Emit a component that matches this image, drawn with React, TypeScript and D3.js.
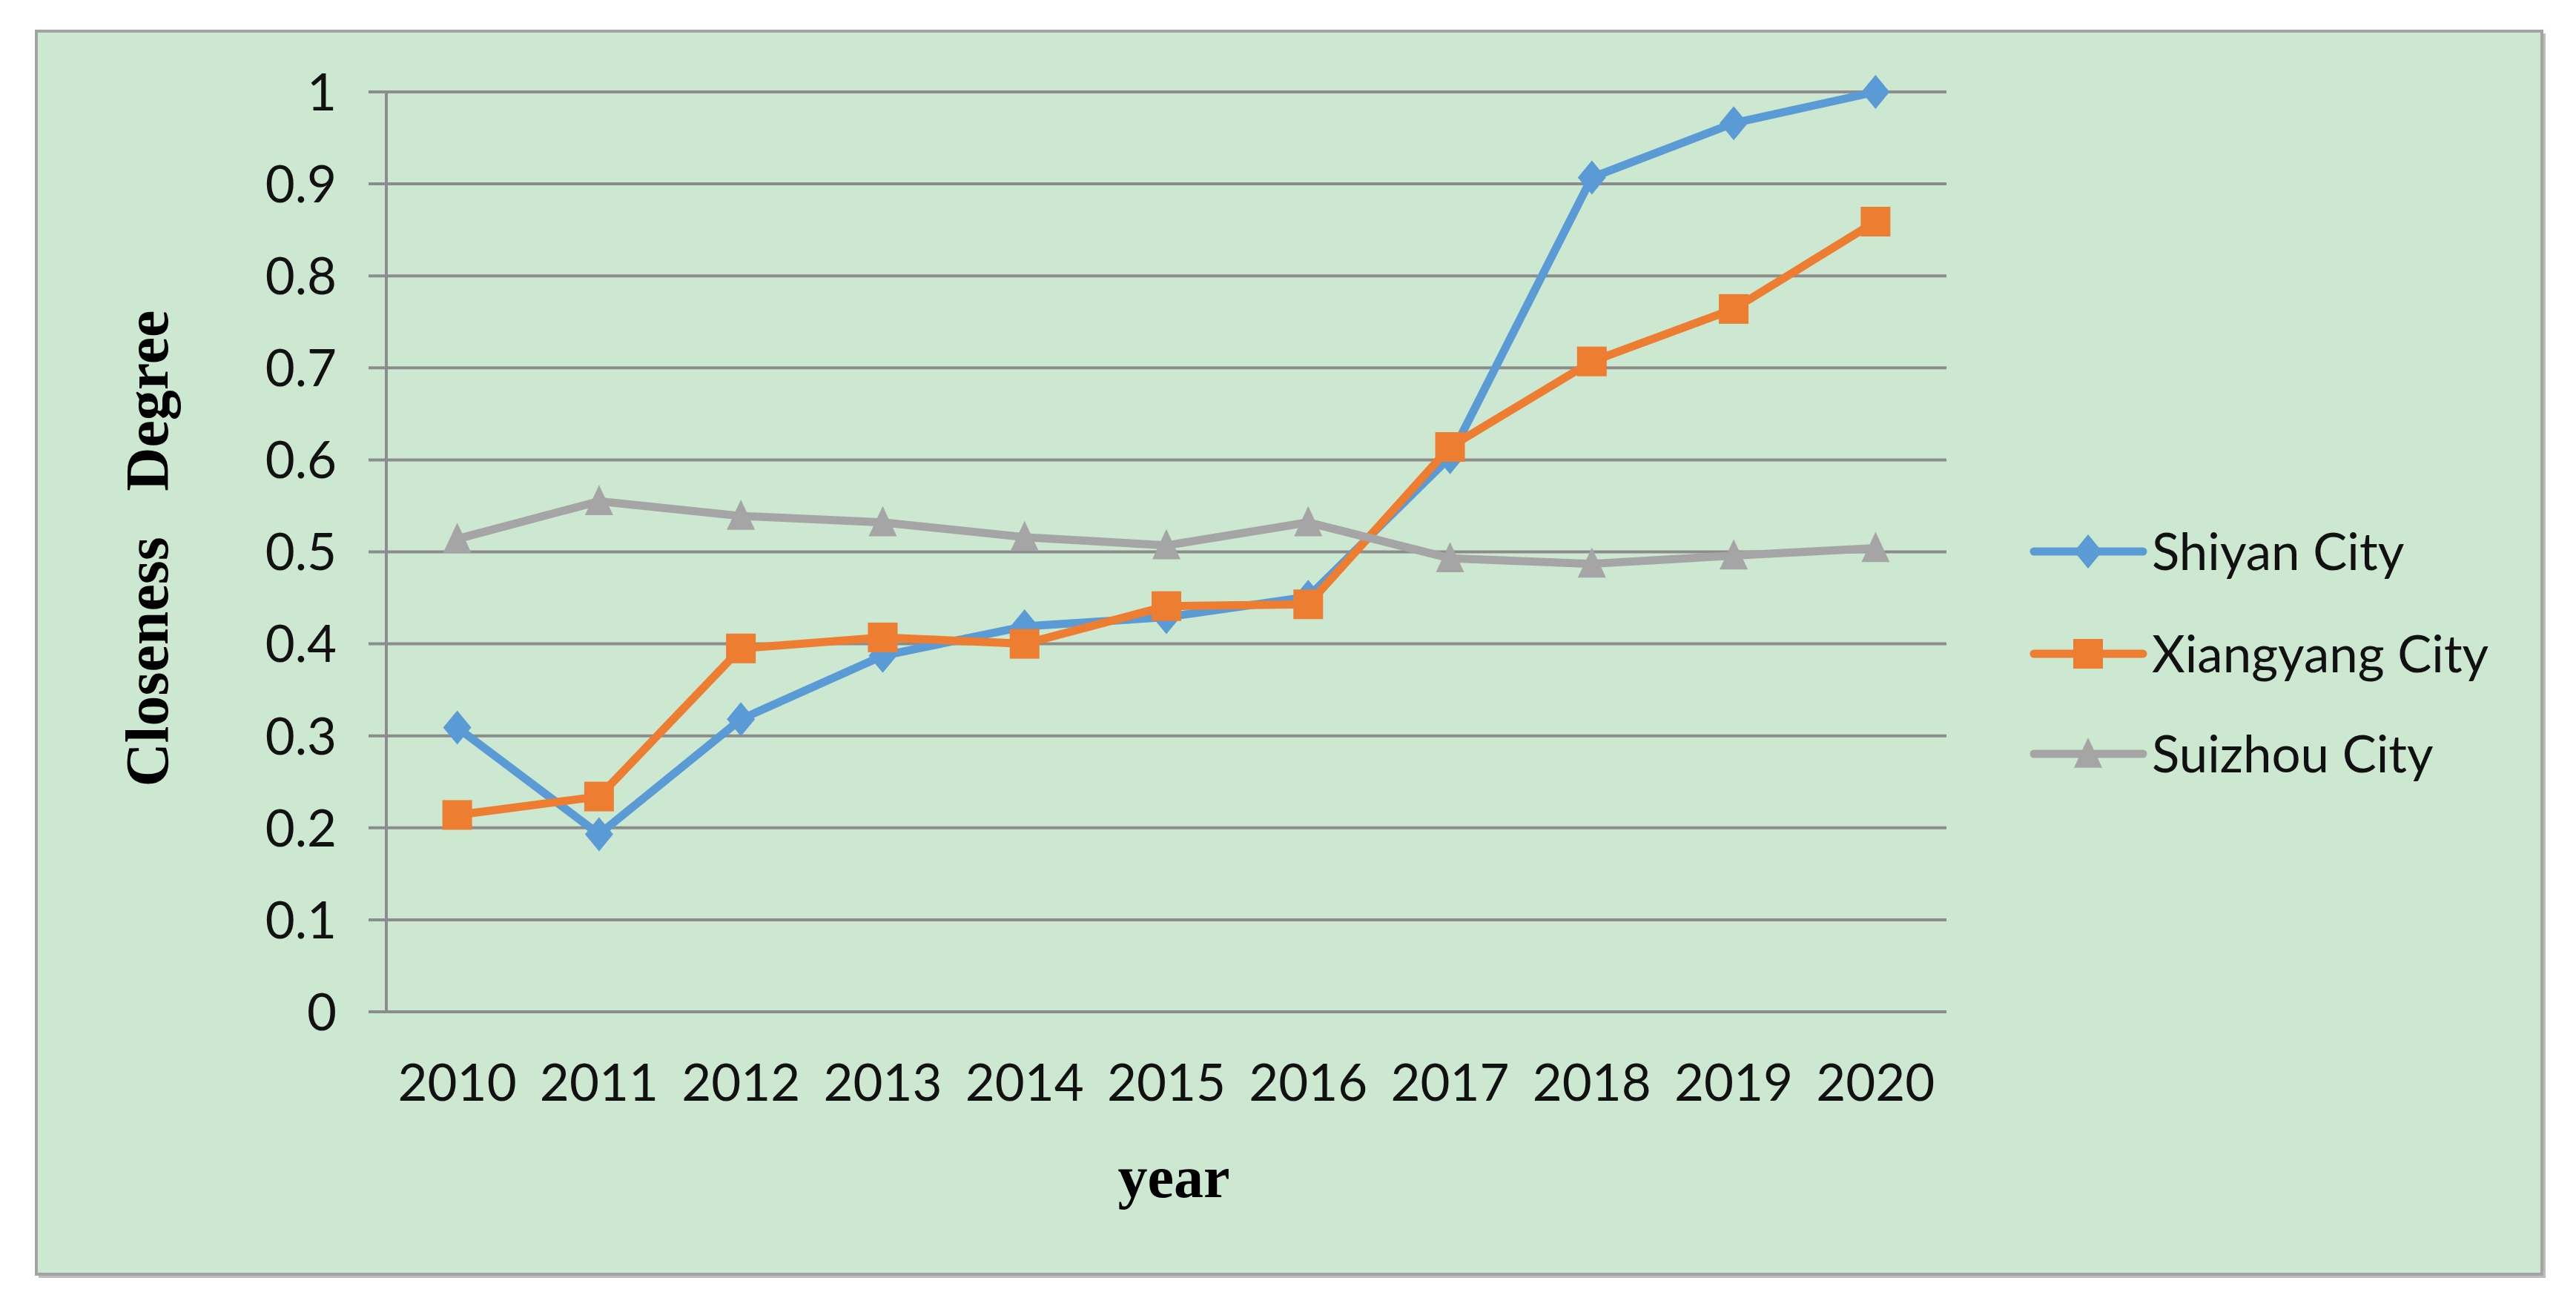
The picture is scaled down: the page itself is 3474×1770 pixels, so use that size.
import React from "react";
import * as d3 from "d3";

const years = ["2010", "2011", "2012", "2013", "2014", "2015", "2016", "2017", "2018", "2019", "2020"];
const shiyan = [0.309, 0.193, 0.318, 0.387, 0.419, 0.429, 0.451, 0.603, 0.907, 0.966, 1.0];
const xiangyang = [0.214, 0.234, 0.395, 0.407, 0.4, 0.441, 0.443, 0.614, 0.707, 0.764, 0.859];
const suizhou = [0.514, 0.555, 0.539, 0.532, 0.516, 0.507, 0.532, 0.493, 0.487, 0.496, 0.504];
const yTicks = [0, 0.1, 0.2, 0.3, 0.4, 0.5, 0.6, 0.7, 0.8, 0.9, 1];
const seriesNames = ["Shiyan City", "Xiangyang City", "Suizhou City"];
const seriesColors = ["#5B9BD5", "#ED7D31", "#A5A5A5"];
const seriesShapes = ["diamond", "square", "triangle"];

const W = 3474;
const H = 1770;
const plotLeft = 521;
const plotRight = 2625;
const plotTop = 124;
const plotBottom = 1365;
const tickFont = "Lato, 'Open Sans', sans-serif";
const titleFont = "'Liberation Serif', 'DejaVu Serif', serif";

function Marker({ shape, cx, cy, color }: { shape: string; cx: number; cy: number; color: string }) {
  if (shape === "diamond") {
    const w = 19, h = 23;
    return <path d={`M${cx},${cy - h}L${cx + w},${cy}L${cx},${cy + h}L${cx - w},${cy}Z`} fill={color} />;
  }
  if (shape === "square") {
    const s = 20;
    return <rect x={cx - s} y={cy - s} width={2 * s} height={2 * s} fill={color} />;
  }
  const w = 19, h = 22;
  return <path d={`M${cx},${cy - h}L${cx + w},${cy + h * 0.85}L${cx - w},${cy + h * 0.85}Z`} fill={color} />;
}

export default function App() {
  const x = d3.scaleBand<string>().domain(years).range([plotLeft, plotRight]);
  const y = d3.scaleLinear().domain([0, 1]).range([plotBottom, plotTop]);
  const cx = (yr: string) => (x(yr) as number) + x.bandwidth() / 2;
  const data = [shiyan, xiangyang, suizhou];
  const line = d3
    .line<number>()
    .x((_, i) => cx(years[i]))
    .y((v) => y(v));

  const legendRows = [744, 882, 1017];

  return (
    <svg width={W} height={H} style={{ position: "absolute", left: 0, top: 0, background: "#ffffff" }}>
      <rect x={52} y={45} width={3381} height={1679} fill="#bdbdbd" />
      <rect x={49} y={42} width={3379} height={1677} fill="#CDE8D0" stroke="#A3A3A3" strokeWidth={4} />

      {yTicks.map((t) => (
        <g key={t}>
          <line x1={plotLeft - 24} x2={plotRight} y1={y(t)} y2={y(t)} stroke="#8C8C8C" strokeWidth={4} />
          <text
            x={454}
            y={y(t)}
            dy="0.36em"
            textAnchor="end"
            fontFamily={tickFont}
            fontSize={69}
            fill="#111"
          >
            {d3.format("~g")(t)}
          </text>
        </g>
      ))}
      <line x1={plotLeft} x2={plotLeft} y1={plotTop} y2={plotBottom} stroke="#8C8C8C" strokeWidth={4} />

      {years.map((yr) => (
        <text key={yr} x={cx(yr)} y={1485} textAnchor="middle" fontFamily={tickFont} fontSize={69} fill="#111">
          {yr}
        </text>
      ))}

      {data.map((vals, si) => (
        <g key={si}>
          <path d={line(vals) || ""} fill="none" stroke={seriesColors[si]} strokeWidth={11} strokeLinejoin="round" />
          {vals.map((v, i) => (
            <Marker key={i} shape={seriesShapes[si]} cx={cx(years[i])} cy={y(v)} color={seriesColors[si]} />
          ))}
        </g>
      ))}

      <text x={1583} y={1615} textAnchor="middle" fontFamily={titleFont} fontWeight="bold" fontSize={80} fill="#000">
        year
      </text>
      <text
        transform={`translate(226, ${740}) rotate(-90)`}
        textAnchor="middle"
        fontFamily={titleFont}
        fontWeight="bold"
        fontSize={82}
        fill="#000"
        style={{ whiteSpace: "pre" }}
      >
        {"Closeness   Degree"}
      </text>

      {seriesNames.map((name, si) => (
        <g key={name}>
          <line
            x1={2743}
            x2={2890}
            y1={legendRows[si]}
            y2={legendRows[si]}
            stroke={seriesColors[si]}
            strokeWidth={11}
            strokeLinecap="round"
          />
          <Marker shape={seriesShapes[si]} cx={2816} cy={legendRows[si]} color={seriesColors[si]} />
          <text
            x={2902}
            y={legendRows[si]}
            dy="0.36em"
            fontFamily={tickFont}
            fontSize={69}
            fill="#111"
          >
            {name}
          </text>
        </g>
      ))}
    </svg>
  );
}
